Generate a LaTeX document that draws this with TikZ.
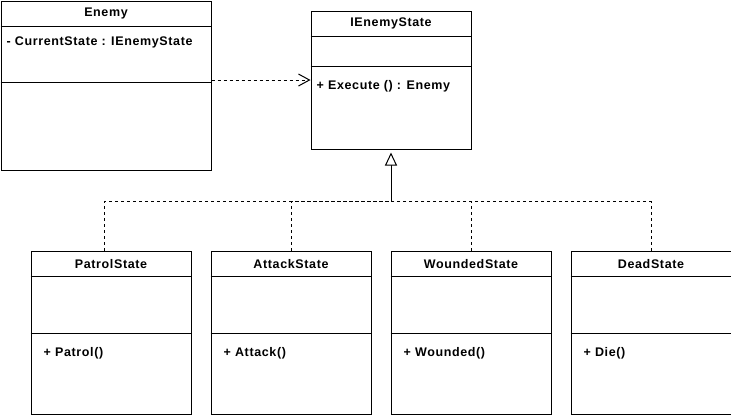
\documentclass[tikz,border=0pt]{standalone}
\usepackage{fontspec}
\setmainfont{Liberation Sans}[LetterSpace=5]
\usetikzlibrary{arrows.meta,calc}
\begin{document}
\begin{tikzpicture}[x=1pt,y=-1pt,
  cls/.style={draw, line width=1pt, inner sep=0pt, anchor=north west, fill=white},
  divider/.style={line width=1pt},
  ttl/.style={font=\bfseries\fontsize{12.5}{14}\selectfont, inner sep=0pt},
  mem/.style={font=\bfseries\fontsize{12.5}{14}\selectfont, inner sep=0pt, anchor=west},
  dep/.style={line width=1pt, dash pattern=on 3pt off 3pt, -{Straight Barb[length=11pt,width=12pt,line width=1pt]}},
  realize/.style={line width=1pt, dash pattern=on 3pt off 3pt},
  inh/.style={line width=1pt, -{Triangle[open,length=13pt,width=12pt,line width=1pt,fill=white]}}
]
\useasboundingbox (0,0) rectangle (731,418);
\fill[white] (0,0) rectangle (731,418);

% Enemy
\node[cls, minimum width=210pt, minimum height=169pt] (enemy) at (0.5,0.5) {};
\draw[divider] ($(enemy.north west)+(0,26)$) -- ($(enemy.north east)+(0,26)$);
\draw[divider] ($(enemy.north west)+(0,82)$) -- ($(enemy.north east)+(0,82)$);
\node[ttl] (enemyT) at ($(enemy.north)+(0,13)$) {Enemy};
\node[mem] (enemyA) at ($(enemy.north west)+(6,42)$) {- CurrentState : IEnemyState};

% IEnemyState
\node[cls, minimum width=160pt, minimum height=138pt] (ies) at (310.5,10.5) {};
\draw[divider] ($(ies.north west)+(0,26)$) -- ($(ies.north east)+(0,26)$);
\draw[divider] ($(ies.north west)+(0,56)$) -- ($(ies.north east)+(0,56)$);
\node[ttl] (iesT) at ($(ies.north)+(0,13)$) {IEnemyState};
\node[mem] (iesM) at ($(ies.north west)+(6,75.5)$) {+ Execute () : Enemy};

% children
\foreach \nm/\x/\t/\m in {patrol/30.5/PatrolState/+ Patrol(),
                          attack/210.5/AttackState/+ Attack(),
                          wounded/390.5/WoundedState/+ Wounded(),
                          dead/570.5/DeadState/+ Die()}{
  \node[cls, minimum width=160pt, minimum height=163pt] (\nm) at (\x,250.5) {};
  \draw[divider] ($(\nm.north west)+(0,26)$) -- ($(\nm.north east)+(0,26)$);
  \draw[divider] ($(\nm.north west)+(0,82.5)$) -- ($(\nm.north east)+(0,82.5)$);
  \node[ttl] (\nm T) at ($(\nm.north)+(0,13.5)$) {\t};
  \node[mem] (\nm M) at ($(\nm.north west)+(13,102.5)$) {\m};
}

% connectors
\draw[dep] (enemy.east |- ies.west) -- (ies.west);

\coordinate (j) at ($(ies.south)+(0,52)$);
\draw[realize] ($(patrol.north)+(-7,0)$) |- (j);
\draw[realize] (attack.north) |- (j);
\draw[realize] (wounded.north) |- (j);
\draw[realize] (dead.north) |- (j);
\draw[inh] (j) -- ($(ies.south)+(0,3)$);
\end{tikzpicture}
\end{document}
